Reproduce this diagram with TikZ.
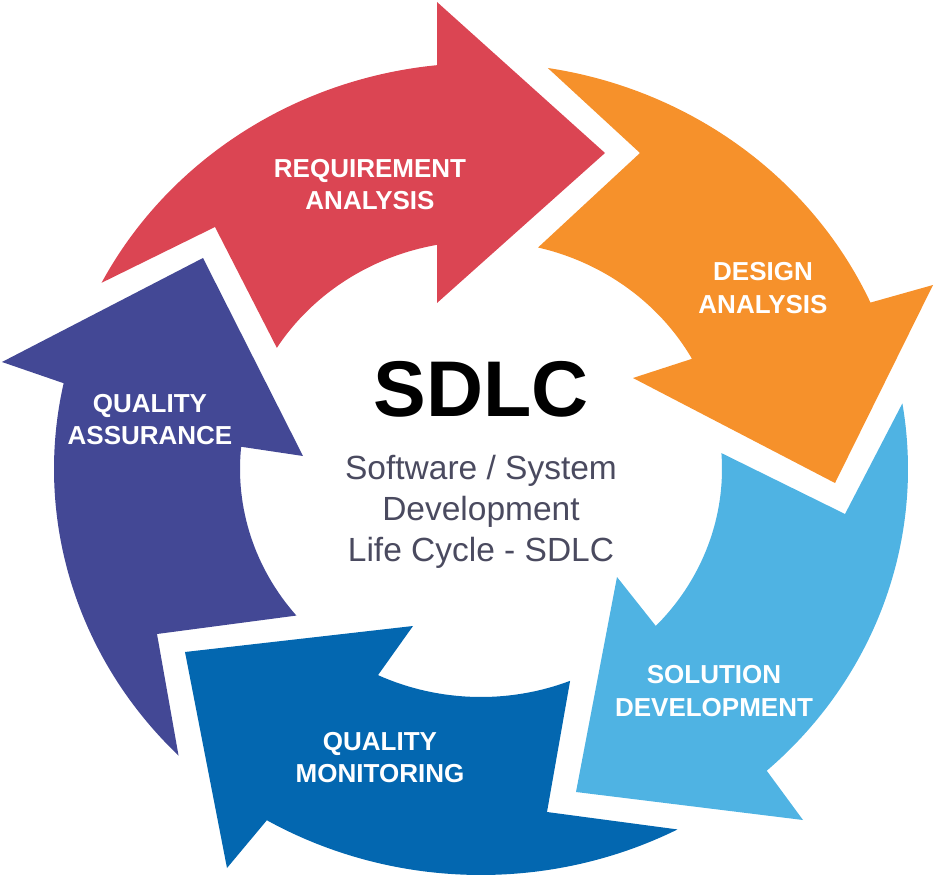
\documentclass[tikz,border=0pt]{standalone}
\usepackage{fontspec}
\setmainfont{Liberation Sans}
\definecolor{cred}{HTML}{DB4553}
\definecolor{corange}{HTML}{F6912B}
\definecolor{clight}{HTML}{4FB3E3}
\definecolor{cdark}{HTML}{0367B0}
\definecolor{cpurple}{HTML}{434895}
\definecolor{csub}{HTML}{4A4A5F}
\begin{document}
\begin{tikzpicture}[x=1pt,y=1pt,
  label/.style={text=white,font=\fontsize{26}{32.5}\selectfont\bfseries,align=center,inner sep=0pt},
  outerarc/.style={x radius=427pt,y radius=406pt},
  innerarc/.style={x radius=241pt,y radius=228pt}]
\useasboundingbox (-481,-409) rectangle (455,469);
% requirement analysis (red)
\fill[cred] (152.7:427pt and 406pt) arc[start angle=152.7,end angle=95.9,outerarc]
  -- (-44,467) -- (124,316) -- (-44,166)
  -- (100.5:241pt and 228pt) arc[start angle=100.5,end angle=147.9,innerarc]
  -- (-266,242) -- cycle;
% design analysis (orange)
\fill[corange] (81.0:427pt and 406pt) arc[start angle=81.0,end angle=24.2,outerarc]
  -- (452,184) -- (354,-14) -- (152,91)
  -- (28.9:241pt and 228pt) arc[start angle=28.9,end angle=76.3,innerarc]
  -- (159,316) -- cycle;
% solution development (light blue)
\fill[clight] (9.3:427pt and 406pt) arc[start angle=9.3,end angle=-48.0,outerarc]
  -- (322,-351) -- (95,-323) -- (136,-108)
  -- (-43.5:241pt and 228pt) arc[start angle=-43.5,end angle=4.0,innerarc]
  -- (364,-45) -- cycle;
% quality monitoring (dark blue)
\fill[cdark] (-62.6:427pt and 406pt) arc[start angle=-62.6,end angle=-120.1,outerarc]
  -- (-254,-399) -- (-296,-183) -- (-68,-157)
  -- (-115.3:241pt and 228pt) arc[start angle=-115.3,end angle=-68.3,innerarc]
  -- (66,-343) -- cycle;
% quality assurance (purple)
\fill[cpurple] (-135.1:427pt and 406pt) arc[start angle=-135.1,end angle=-192.2,outerarc]
  -- (-479,107) -- (-278,211) -- (-178,13)
  -- (174.4:241pt and 228pt) arc[start angle=174.4,end angle=220,innerarc]
  -- (-324,-165) -- cycle;
% labels
\node[label] (req) at (-111,284.3) {REQUIREMENT\\ANALYSIS};
\node[label] (des) at (282,181) {DESIGN\\ANALYSIS};
\node[label] (sol) at (233,-222) {SOLUTION\\DEVELOPMENT};
\node[label] (mon) at (-101,-288.5) {QUALITY\\MONITORING};
\node[label] (ass) at (-331,49.5) {QUALITY\\ASSURANCE};
\node[font=\fontsize{79}{90}\selectfont\bfseries,inner sep=0pt,anchor=base] (sdlc) at (0,53) {SDLC};
\node[font=\fontsize{33.5}{41}\selectfont,text=csub,align=center,inner sep=0pt] (sub) at (0,-43.3) {Software / System\\Development\\Life Cycle - SDLC};
\end{tikzpicture}
\end{document}
